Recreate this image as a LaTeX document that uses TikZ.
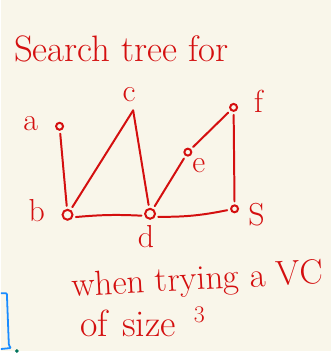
\documentclass[tikz,border=0pt]{standalone}
\usepackage{tikz}
\usetikzlibrary{positioning}
\definecolor{creme}{HTML}{F9F6EA}
\definecolor{vermelho}{HTML}{D40F0F}
\definecolor{azul}{HTML}{1A8CFF}
\definecolor{verde}{HTML}{00735C}

\begin{document}
\begin{tikzpicture}[x=1pt, y=-1pt,
  vertice/.style={draw=vermelho, line width=2pt, circle, inner sep=0pt,
                  minimum size=7pt},
  rotulo/.style={text=vermelho, inner sep=0pt,
                 font=\fontsize{32}{34}\selectfont},
  texto/.style={text=vermelho, inner sep=0pt, anchor=base west,
                font=\fontsize{36}{40}\selectfont},
  aresta/.style={vermelho, line width=2pt, line cap=round,
                 shorten >=3pt, shorten <=3pt}
]
\fill[creme] (0,0) rectangle (332,353);
\node[texto, font=\fontsize{37}{40}\selectfont] (titulo) at (13,62) {Search tree for};
% vertices
\node[vertice] (a) at (59,127) {};
\coordinate (c) at (133,111);
\node[vertice] (f) at (234,108) {};
\node[vertice] (e) at (188,153) {};
\node[vertice, minimum size=10pt] (b) at (67,216) {};
\node[vertice, minimum size=10pt] (d) at (150,215) {};
\node[vertice] (s) at (235,210) {};
\node[rotulo] (la) at (30,124) {a};
\node[rotulo] (lc) at (129,95) {c};
\node[rotulo] (lf) at (259,102) {f};
\node[rotulo] (le) at (199,167) {e};
\node[rotulo] (lb) at (36,212) {b};
\node[rotulo] (ld) at (146,238) {d};
\node[rotulo] (ls) at (257,216) {S};
% arestas
\draw[aresta] (a) -- (b);
\draw[aresta, shorten <=0pt] (c) -- (b);
\draw[aresta, shorten <=0pt] (c) -- (d);
\draw[aresta] (b.-25) to[bend left=4] (d.200);
\draw[aresta] (d) -- (e);
\draw[aresta] (e) -- (f);
\draw[aresta] (f) -- (s);
\draw[aresta] (d.-30) to[bend right=6] (s.190);
\node[texto, rotate=3, font=\fontsize{35}{38}\selectfont] (linha1) at (72,298) {when trying a VC};
\node[texto, font=\fontsize{38}{40}\selectfont] (linha2) at (80,338)
  {of\hspace{14pt}size\hspace{18pt}\raisebox{0.35em}{\fontsize{24}{26}\selectfont 3}};
% canto
\draw[azul, line width=1.8pt, rounded corners=1pt]
  (0,295) -- (6,295) -- (8,347) -- (10,350) -- (0,351);
\fill[verde] (16,353) circle (2);
\end{tikzpicture}
\end{document}
